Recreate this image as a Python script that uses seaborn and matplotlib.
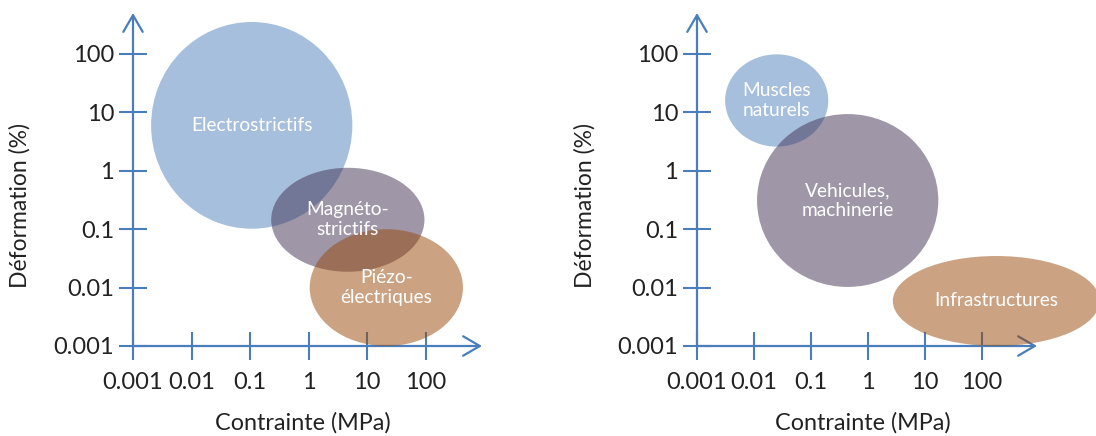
import numpy as np
import pandas as pd
import matplotlib
matplotlib.use("Agg")
import matplotlib.pyplot as plt
import seaborn as sns
from matplotlib.patches import Ellipse, FancyArrowPatch

sns.set_theme(style="white")
plt.rcParams['font.family'] = ['Lato', 'DejaVu Sans']

# ---- data (centres in MPa / %, extents in decades) ----
left_names = ["Electrostrictifs", "Magnéto-\nstrictifs", "Piézo-\nélectriques"]
left_stress = [0.107, 4.7, 21.4]
left_strain = [6.0, 0.145, 0.01]
left_width = [3.44, 2.62, 2.62]
left_height = [3.54, 1.78, 2.0]

right_names = ["Muscles\nnaturels", "Vehicules,\nmachinerie", "Infrastructures"]
right_stress = [0.025, 0.44, 178]
right_strain = [16, 0.31, 0.0059]
right_width = [1.81, 3.18, 3.63]
right_height = [1.58, 2.96, 1.54]

colors = ["#4f81bd", "#403152", "#984807"]
tick_vals = [0.001, 0.01, 0.1, 1, 10, 100]
tick_labels = ["0.001", "0.01", "0.1", "1", "10", "100"]

axis_color = "#4a7ebb"
text_color = "#222222"

W, H = 1096, 436
fig = plt.figure(figsize=(W / 100, H / 100), dpi=100)


def panel(x0, x1, per_dec_x, ylab_x, names, stress, strain, width, height):
    y0, y1 = 346, 13
    ax = fig.add_axes([x0 / W, (H - y0) / H, (x1 - x0) / W, (y0 - y1) / H])
    ax.set_xlim(-3, -3 + (x1 - x0) / per_dec_x)
    ax.set_ylim(-3, -3 + (y0 - y1) / 58.4)
    for s in ax.spines.values():
        s.set_visible(False)
    ax.set_facecolor("none")

    df = pd.DataFrame({"name": names, "x": np.log10(stress), "y": np.log10(strain),
                       "w": width, "h": height, "c": colors})
    for _, r in df.iterrows():
        ax.add_patch(Ellipse((r.x, r.y), r.w, r.h, facecolor=r.c, alpha=0.5,
                             edgecolor="none", zorder=3, clip_on=False))
        ax.text(r.x, r.y, r["name"], color="white", fontsize=13.8, ha="center",
                va="center", linespacing=1.2, zorder=5)

    # axes drawn as arrows
    for end in [(1, 0), (0, 1)]:
        ax.add_patch(FancyArrowPatch((0, 0), end, transform=ax.transAxes,
                                     arrowstyle="->,head_length=0.6,head_width=0.35",
                                     mutation_scale=20, color=axis_color, lw=1.6,
                                     clip_on=False, zorder=2, shrinkA=0, shrinkB=0))

    ticks = np.log10(tick_vals)
    ax.set_xticks(ticks, tick_labels)
    ax.set_yticks(ticks, tick_labels)
    ax.tick_params(axis="both", direction="inout", length=20, width=1.5,
                   bottom=True, left=True,
                   color=axis_color, labelsize=17, labelcolor=text_color)
    ax.tick_params(axis="x", pad=9)
    ax.tick_params(axis="y", pad=3.5)

    ax.text((ylab_x - x0) / (x1 - x0), (y0 - 206) / (y0 - y1),
            "Déformation (%)", rotation=90, ha="center", va="center",
            fontsize=16.5, color=text_color, transform=ax.transAxes)
    ax.text(0.487, (y0 - 423) / (y0 - y1), "Contrainte (MPa)", ha="center",
            va="center", fontsize=16.8, color=text_color, transform=ax.transAxes)
    return ax


panel(133, 482, 58.5, 20, left_names, left_stress, left_strain, left_width, left_height)
panel(697, 1037, 57.0, 585, right_names, right_stress, right_strain, right_width, right_height)

fig.savefig("out.png", dpi=100)
